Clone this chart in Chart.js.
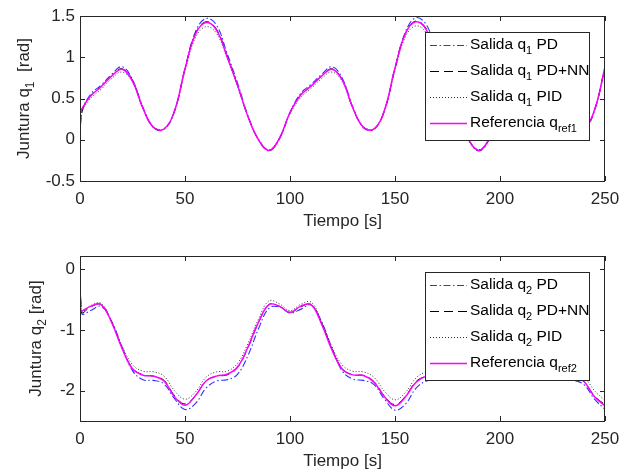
<!DOCTYPE html>
<html>
<head>
<meta charset="utf-8">
<script src="https://cdn.jsdelivr.net/npm/chart.js@4.4.0/dist/chart.umd.min.js"></script>
<style>
  html, body { margin: 0; padding: 0; background: #fff; overflow: hidden; }
  #wrap { position: relative; width: 629px; height: 472px; }
  canvas { position: absolute; left: 0; }
  #c1 { top: 0; }
  #c2 { top: 240px; }
</style>
</head>
<body>
<div id="wrap">
  <canvas id="c1" width="629" height="240"></canvas>
  <canvas id="c2" width="629" height="240"></canvas>
</div>
<script>
// time axis [s]
const time = [0, 0.8, 5, 10, 15, 20, 25, 30, 35, 40, 45, 50, 55, 60, 65, 70, 75, 80, 85, 90, 95, 100,
  105, 110, 115, 120, 125, 130, 135, 140, 145, 150, 155, 160, 165, 170, 175, 180, 185, 190, 195, 200,
  205, 210, 215, 220, 225, 230, 235, 240, 245, 250]
const xTicks = [0, 50, 100, 150, 200, 250]

// joint 1 [rad]
const q1Ref = [0.32, 0.37,
  0.53, 0.64, 0.77, 0.855, 0.71, 0.38, 0.15, 0.13, 0.35, 0.86,
  1.28, 1.42, 1.33, 1.01, 0.66, 0.28, 0.0, -0.13, 0.02, 0.33,
  0.54, 0.65, 0.77, 0.855, 0.72, 0.38, 0.15, 0.13, 0.36, 0.87,
  1.29, 1.43, 1.33, 1.01, 0.66, 0.28, 0.0, -0.13, 0.02, 0.33,
  0.54, 0.65, 0.77, 0.855, 0.72, 0.38, 0.15, 0.13, 0.36, 0.88]
const q1PD = [0, 0.33,
  0.55, 0.66, 0.79, 0.885, 0.73, 0.39, 0.145, 0.125, 0.34, 0.86,
  1.31, 1.47, 1.39, 1.05, 0.69, 0.29, 0.0, -0.135, 0.01, 0.33,
  0.56, 0.67, 0.79, 0.885, 0.74, 0.39, 0.145, 0.125, 0.35, 0.87,
  1.31, 1.48, 1.39, 1.05, 0.69, 0.29, 0.0, -0.135, 0.01, 0.33,
  0.56, 0.67, 0.79, 0.885, 0.74, 0.39, 0.145, 0.125, 0.35, 0.89]
const q1NN = [0, 0.33,
  0.53, 0.64, 0.77, 0.86, 0.72, 0.38, 0.15, 0.13, 0.35, 0.86,
  1.29, 1.43, 1.34, 1.02, 0.66, 0.28, 0.0, -0.13, 0.02, 0.33,
  0.54, 0.65, 0.77, 0.86, 0.72, 0.38, 0.15, 0.13, 0.36, 0.87,
  1.29, 1.44, 1.34, 1.02, 0.66, 0.28, 0.0, -0.13, 0.02, 0.33,
  0.54, 0.65, 0.77, 0.86, 0.72, 0.38, 0.15, 0.13, 0.36, 0.88]
const q1PID = [0, 0.32,
  0.50, 0.61, 0.74, 0.82, 0.70, 0.38, 0.16, 0.135, 0.35, 0.83,
  1.24, 1.37, 1.29, 0.99, 0.65, 0.28, 0.01, -0.12, 0.02, 0.31,
  0.51, 0.62, 0.74, 0.82, 0.70, 0.38, 0.16, 0.135, 0.36, 0.84,
  1.25, 1.38, 1.29, 0.99, 0.65, 0.28, 0.01, -0.12, 0.02, 0.31,
  0.51, 0.62, 0.74, 0.82, 0.70, 0.38, 0.16, 0.135, 0.36, 0.86]
const q1Ticks = [-0.5, 0, 0.5, 1, 1.5]

// joint 2 [rad]
const q2Ref = [-0.70, -0.69,
  -0.61, -0.58, -0.87, -1.30, -1.64, -1.745, -1.76, -1.84, -2.10, -2.24,
  -2.08, -1.84, -1.76, -1.73, -1.61, -1.28, -0.87, -0.58, -0.61, -0.71,
  -0.61, -0.58, -0.90, -1.33, -1.65, -1.74, -1.75, -1.86, -2.10, -2.25,
  -2.10, -1.86, -1.76, -1.74, -1.62, -1.29, -0.88, -0.58, -0.61, -0.71,
  -0.61, -0.58, -0.88, -1.31, -1.64, -1.74, -1.76, -1.85, -2.10, -2.25]
const q2PD = [0, -0.73,
  -0.68, -0.61, -0.85, -1.28, -1.67, -1.82, -1.83, -1.89, -2.13, -2.31,
  -2.21, -1.96, -1.84, -1.82, -1.73, -1.42, -0.98, -0.64, -0.62, -0.72,
  -0.66, -0.59, -0.86, -1.30, -1.68, -1.81, -1.83, -1.90, -2.14, -2.32,
  -2.22, -1.96, -1.84, -1.82, -1.73, -1.42, -0.98, -0.64, -0.62, -0.72,
  -0.66, -0.59, -0.86, -1.30, -1.68, -1.81, -1.83, -1.90, -2.14, -2.31]
const q2NN = [0, -0.71,
  -0.62, -0.58, -0.86, -1.29, -1.63, -1.74, -1.76, -1.83, -2.08, -2.22,
  -2.08, -1.84, -1.76, -1.74, -1.62, -1.29, -0.88, -0.58, -0.61, -0.71,
  -0.62, -0.58, -0.88, -1.31, -1.64, -1.74, -1.75, -1.85, -2.09, -2.23,
  -2.09, -1.85, -1.76, -1.74, -1.62, -1.29, -0.88, -0.58, -0.61, -0.71,
  -0.62, -0.58, -0.88, -1.31, -1.64, -1.74, -1.76, -1.85, -2.09, -2.23]
const q2PID = [0, -0.69,
  -0.60, -0.56, -0.86, -1.26, -1.57, -1.68, -1.69, -1.76, -2.00, -2.14,
  -2.02, -1.78, -1.69, -1.68, -1.55, -1.22, -0.82, -0.52, -0.57, -0.68,
  -0.58, -0.54, -0.86, -1.28, -1.58, -1.68, -1.69, -1.78, -2.01, -2.15,
  -2.03, -1.79, -1.69, -1.68, -1.55, -1.22, -0.82, -0.52, -0.57, -0.68,
  -0.58, -0.54, -0.86, -1.27, -1.57, -1.68, -1.69, -1.77, -2.00, -2.16]
const q2Ticks = [-2, -1, 0]

// labels: [text, isSubscript]
const legend1 = [
  [['Salida q', 0], ['1', 1], [' PD', 0]],
  [['Salida q', 0], ['1', 1], [' PD+NN', 0]],
  [['Salida q', 0], ['1', 1], [' PID', 0]],
  [['Referencia q', 0], ['ref1', 1]],
]
const legend2 = [
  [['Salida q', 0], ['2', 1], [' PD', 0]],
  [['Salida q', 0], ['2', 1], [' PD+NN', 0]],
  [['Salida q', 0], ['2', 1], [' PID', 0]],
  [['Referencia q', 0], ['ref2', 1]],
]
const yTitle1 = [['Juntura q', 0], ['1', 1], ['  [rad]', 0]]
const yTitle2 = [['Juntura q', 0], ['2', 1], [' [rad]', 0]]
const xTitle = 'Tiempo [s]'

const FONT = 'Arial, "Liberation Sans", sans-serif'
const AXIS = '#262626'

function richWidth(ctx, parts, size, sub) {
  let w = 0
  parts.forEach(([s, isSub]) => {
    ctx.font = (isSub ? sub : size) + 'px ' + FONT
    w += ctx.measureText(s).width
  })
  return w
}

function richText(ctx, parts, x, y, size, sub) {
  let cx = x
  parts.forEach(([s, isSub]) => {
    ctx.font = (isSub ? sub : size) + 'px ' + FONT
    ctx.fillText(s, cx, isSub ? y + size * 0.4 : y)
    cx += ctx.measureText(s).width
  })
}

// box, inner ticks, axis titles and legend drawn MATLAB-like
const matlabFrame = {
  id: 'matlabFrame',
  afterDatasetsDraw(chart, args, opts) {
    const { ctx, chartArea: a, scales: { x, y } } = chart
    ctx.save()
    ctx.strokeStyle = AXIS
    ctx.lineWidth = 1
    ctx.setLineDash([])
    ctx.strokeRect(a.left + 0.5, a.top + 0.5, a.width - 1, a.height)
    const tl = 5
    ctx.beginPath()
    x.ticks.forEach((t) => {
      const px = Math.round(x.getPixelForValue(t.value)) + 0.5
      ctx.moveTo(px, a.bottom); ctx.lineTo(px, a.bottom - tl)
      ctx.moveTo(px, a.top); ctx.lineTo(px, a.top + tl)
    })
    y.ticks.forEach((t) => {
      const py = Math.round(y.getPixelForValue(t.value)) + 0.5
      ctx.moveTo(a.left, py); ctx.lineTo(a.left + tl, py)
      ctx.moveTo(a.right, py); ctx.lineTo(a.right - tl, py)
    })
    ctx.stroke()

    // legend
    const lw = 164, lh = 108
    const lx = a.right - 16 - lw, ly = a.top + 16
    ctx.fillStyle = '#fff'
    ctx.fillRect(lx, ly, lw, lh)
    ctx.strokeStyle = AXIS
    ctx.strokeRect(lx + 0.5, ly + 0.5, lw, lh)
    ctx.textBaseline = 'middle'
    ctx.textAlign = 'left'
    opts.entries.forEach((parts, i) => {
      const ds = chart.data.datasets[i]
      const ry = ly + 13 + i * 26
      ctx.beginPath()
      ctx.strokeStyle = ds.borderColor
      ctx.lineWidth = ds.borderWidth
      ctx.setLineDash(ds.borderDash || [])
      ctx.moveTo(lx + 5, ry + 0.5); ctx.lineTo(lx + 42, ry + 0.5)
      ctx.stroke()
      ctx.fillStyle = '#000'
      richText(ctx, parts, lx + 45, ry, 15.5, 11)
    })
    ctx.setLineDash([])

    // axis titles
    ctx.fillStyle = AXIS
    ctx.textAlign = 'center'
    ctx.font = '17px ' + FONT
    ctx.fillText(xTitle, (a.left + a.right) / 2, 221)
    ctx.translate(opts.yTitleX, (a.top + a.bottom) / 2)
    ctx.rotate(-Math.PI / 2)
    ctx.textAlign = 'left'
    const w = richWidth(ctx, opts.yTitle, 17, 12)
    richText(ctx, opts.yTitle, -w / 2, 0, 17, 12)
    ctx.restore()
  },
}

const pts = (arr) => arr.map((v, i) => ({ x: time[i], y: v }))

function makeChart(id, series, yMin, yMax, yTicks, entries, yTitle, yTitleX) {
  const [pd, nn, pid, ref] = series
  return new Chart(document.getElementById(id), {
    type: 'line',
    data: {
      datasets: [
        { data: pts(pd), borderColor: '#3030ff', borderWidth: 1.1, borderDash: [7, 2.5, 1.5, 2.5], order: 3 },
        { data: pts(nn), borderColor: '#000000', borderWidth: 1, borderDash: [9, 5], order: 2 },
        { data: pts(pid), borderColor: '#333333', borderWidth: 1, borderDash: [1, 2], order: 1 },
        { data: pts(ref), borderColor: '#ff00ff', borderWidth: 1.5, order: 0 },
      ],
    },
    options: {
      responsive: false,
      animation: false,
      devicePixelRatio: 1,
      layout: { padding: { left: 0, right: 24, top: 16, bottom: 0 } },
      elements: {
        point: { radius: 0 },
        line: { tension: 0.4, fill: false },
      },
      scales: {
        x: {
          type: 'linear',
          min: 0,
          max: 250,
          afterBuildTicks: (s) => { s.ticks = xTicks.map((v) => ({ value: v })) },
          afterFit: (s) => { s.height = 59 },
          grid: { display: false, drawTicks: false },
          border: { display: false },
          ticks: { padding: 8, color: AXIS, font: { size: 17, family: FONT }, maxRotation: 0, callback: (v) => String(v) },
        },
        y: {
          min: yMin,
          max: yMax,
          afterBuildTicks: (s) => { s.ticks = yTicks.map((v) => ({ value: v })) },
          afterFit: (s) => { s.width = 80 },
          grid: { display: false, drawTicks: false },
          border: { display: false },
          ticks: { padding: 5, color: AXIS, font: { size: 17, family: FONT }, callback: (v) => String(v) },
        },
      },
      plugins: {
        legend: { display: false },
        tooltip: { enabled: false },
        matlabFrame: { entries, yTitle, yTitleX },
      },
    },
    plugins: [matlabFrame],
  })
}

makeChart('c1', [q1PD, q1NN, q1PID, q1Ref], -0.5, 1.5, q1Ticks, legend1, yTitle1, 24)
makeChart('c2', [q2PD, q2NN, q2PID, q2Ref], -2.5, 0.22, q2Ticks, legend2, yTitle2, 36)
</script>
</body>
</html>
